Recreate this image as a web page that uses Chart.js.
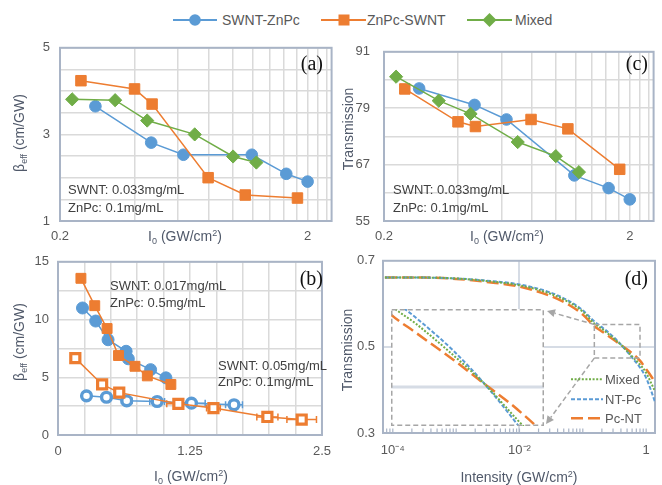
<!DOCTYPE html>
<html>
<head>
<meta charset="utf-8">
<script src="https://cdn.jsdelivr.net/npm/chart.js@4.4.0/dist/chart.umd.min.js"></script>
<style>
body { margin: 0; background: #fff; width: 662px; height: 485px; position: relative; overflow: hidden;
  font-family: 'Liberation Sans', Arial, sans-serif; color: #595959; }
canvas { position: absolute; }
.note { position: absolute; white-space: nowrap; font-size: 13px; color: #404040; line-height: 1; transform: translateY(-50%); }
.ttl { position: absolute; white-space: nowrap; font-size: 14px; color: #50596A; line-height: 1; transform: translate(-50%, -50%); }
.rot { transform: translate(-50%, -50%) rotate(-90deg); }
.ttl sub { font-size: 9px; vertical-align: -3px; }
.ttl sup { font-size: 9px; vertical-align: 5px; }
.pl { position: absolute; font-family: 'Liberation Serif', 'Times New Roman', serif; font-size: 20px; color: #111; line-height: 20px; }
.leg { position: absolute; white-space: nowrap; font-size: 14px; color: #595959; line-height: 1; transform: translateY(-50%); }
.leg2 { position: absolute; white-space: nowrap; font-size: 13px; color: #595959; line-height: 1; transform: translateY(-50%); }
svg { position: absolute; overflow: visible; }
</style>
</head>
<body>

<canvas id="chartA" width="340" height="215" style="left:0px;top:30px"></canvas>
<canvas id="chartC" width="322" height="215" style="left:340px;top:30px"></canvas>
<canvas id="chartB" width="340" height="240" style="left:0px;top:245px"></canvas>
<canvas id="chartD" width="322" height="240" style="left:340px;top:245px"></canvas>
<canvas id="chartInset" width="153" height="117" style="left:391px;top:309px;background:#fff"></canvas>

<!-- top legend -->
<svg style="left:173px;top:12px" width="46" height="16">
  <line x1="0" y1="8" x2="44" y2="8" stroke="#5B9BD5" stroke-width="2"/>
  <circle cx="22" cy="8" r="5.8" fill="#5B9BD5"/>
</svg>
<div class="leg" style="left:222px;top:20px">SWNT-ZnPc</div>
<svg style="left:321px;top:12px" width="46" height="16">
  <line x1="0" y1="8" x2="45" y2="8" stroke="#ED7D31" stroke-width="2"/>
  <rect x="17.5" y="2.5" width="11" height="11" fill="#ED7D31"/>
</svg>
<div class="leg" style="left:367px;top:20px">ZnPc-SWNT</div>
<svg style="left:467px;top:12px" width="46" height="16">
  <line x1="0" y1="8" x2="45" y2="8" stroke="#70AD47" stroke-width="2"/>
  <polygon points="22.5,1 29.5,8 22.5,15 15.5,8" fill="#70AD47"/>
</svg>
<div class="leg" style="left:515px;top:20px">Mixed</div>

<!-- legend of (d) -->
<svg style="left:571px;top:371px" width="32" height="50">
  <line x1="0" y1="8.3" x2="32" y2="8.3" stroke="#70AD47" stroke-width="2" stroke-dasharray="2 1.6"/>
  <line x1="0" y1="28.3" x2="32" y2="28.3" stroke="#5B9BD5" stroke-width="2" stroke-dasharray="4 2"/>
  <line x1="0" y1="47.3" x2="32" y2="47.3" stroke="#ED7D31" stroke-width="2.5" stroke-dasharray="12 5"/>
</svg>
<div class="leg2" style="left:605px;top:379px">Mixed</div>
<div class="leg2" style="left:605px;top:399px">NT-Pc</div>
<div class="leg2" style="left:605px;top:418px">Pc-NT</div>

<!-- axis titles -->
<div class="ttl rot" style="left:20px;top:133px">β<sub>eff</sub> (cm/GW)</div>
<div class="ttl" style="left:185px;top:237px">I<sub>0</sub> (GW/cm<sup>2</sup>)</div>
<div class="ttl rot" style="left:348px;top:129px">Transmission</div>
<div class="ttl" style="left:507px;top:237px">I<sub>0</sub> (GW/cm<sup>2</sup>)</div>
<div class="ttl rot" style="left:20px;top:342px">β<sub>eff</sub> (cm/GW)</div>
<div class="ttl" style="left:191px;top:477px">I<sub>0</sub> (GW/cm<sup>2</sup>)</div>
<div class="ttl rot" style="left:347px;top:350px">Transmission</div>
<div class="ttl" style="left:519px;top:477px">Intensity (GW/cm<sup>2</sup>)</div>

<!-- panel labels -->
<div class="pl" style="right:339px;top:53px">(a)</div>
<div class="pl" style="right:14px;top:53px">(c)</div>
<div class="pl" style="right:339px;top:268px">(b)</div>
<div class="pl" style="right:14px;top:268px">(d)</div>

<!-- notes -->
<div class="note" style="left:68px;top:189px">SWNT: 0.033mg/mL</div>
<div class="note" style="left:68px;top:207px">ZnPc: 0.1mg/mL</div>
<div class="note" style="left:393px;top:189px">SWNT: 0.033mg/mL</div>
<div class="note" style="left:393px;top:207px">ZnPc: 0.1mg/mL</div>
<div class="note" style="left:110px;top:285px">SWNT: 0.017mg/mL</div>
<div class="note" style="left:110px;top:302px">ZnPc: 0.5mg/mL</div>
<div class="note" style="left:218px;top:365px">SWNT: 0.05mg/mL</div>
<div class="note" style="left:218px;top:381px">ZnPc: 0.1mg/mL</div>

<script>
var BLUE = '#5B9BD5';
var ORANGE = '#ED7D31';
var GREEN = '#70AD47';
var FRAME = '#A9B4C6';
var GRID = '#DADADA';

// (a) and (c): I0 in GW/cm2, same for both panels
var blueI0 = [0.278, 0.467, 0.63, 1.19, 1.64, 2.0];
var orangeI0 = [0.243, 0.40, 0.471, 0.793, 1.12, 1.82];
var greenI0 = [0.224, 0.334, 0.45, 0.70, 1.0, 1.242];

// (a) beta_eff (cm/GW)
var aBlue = [3.65, 2.81, 2.53, 2.53, 2.09, 1.91];
var aOrange = [4.24, 4.05, 3.70, 2.00, 1.60, 1.53];
var aGreen = [3.81, 3.79, 3.32, 3.00, 2.49, 2.35];

// (c) transmission
var cBlue = [83.2, 79.7, 76.6, 64.7, 62.0, 59.6];
var cOrange = [83.1, 76.1, 75.1, 76.6, 74.6, 66.0];
var cGreen = [85.7, 80.6, 77.8, 71.8, 68.8, 65.4];

// (b) SWNT 0.017 / ZnPc 0.5 (filled) and SWNT 0.05 / ZnPc 0.1 (open, with x error)
var bBlueX = [0.232, 0.357, 0.474, 0.645, 0.666, 0.877, 1.022];
var bBlueY = [11.0, 9.87, 8.25, 7.25, 6.6, 5.66, 4.95];
var bOrangeX = [0.217, 0.348, 0.465, 0.573, 0.729, 0.846, 1.069];
var bOrangeY = [13.57, 11.2, 9.22, 6.88, 5.95, 5.12, 4.38];
var bBlueOpenX = [0.27, 0.459, 0.651, 0.939, 1.264, 1.667];
var bBlueOpenY = [3.39, 3.27, 2.96, 2.90, 2.76, 2.62];
var bBlueOpenErr = [0.03, 0.03, 0.05, 0.07, 0.13, 0.08];
var bOrangeOpenX = [0.164, 0.418, 0.58, 1.14, 1.472, 1.983, 2.308];
var bOrangeOpenY = [6.66, 4.38, 3.67, 2.70, 2.33, 1.56, 1.34];
var bOrangeOpenErr = [0.02, 0.03, 0.04, 0.11, 0.065, 0.10, 0.14];

// (d) fitted transmission curves vs intensity
var dI = [7.5e-5, 3e-4, 1e-3, 3e-3, 0.01, 0.03, 0.06, 0.1, 0.15, 0.2, 0.3, 0.42, 0.6, 0.8, 1.0, 1.2, 1.38];
var dMixed = [0.661, 0.661, 0.659, 0.653, 0.643, 0.624, 0.604, 0.582, 0.555, 0.542, 0.521, 0.502, 0.478, 0.459, 0.440, 0.416, 0.397];
var dNTPc = [0.661, 0.661, 0.659, 0.654, 0.645, 0.627, 0.607, 0.585, 0.560, 0.546, 0.524, 0.502, 0.475, 0.452, 0.428, 0.398, 0.372];
var dPcNT = [0.661, 0.661, 0.658, 0.651, 0.640, 0.619, 0.598, 0.575, 0.549, 0.536, 0.518, 0.502, 0.485, 0.468, 0.448, 0.432, 0.418];

// zoomed window shown in the inset of (d)
var zoomX = [0.152, 0.80];
var zoomY = [0.474, 0.552];

// tick / grid values
var logGrid = [0.2, 0.4, 0.6, 0.8, 1.0, 1.2, 1.4, 1.6, 1.8, 2.0, 2.2, 2.4];
var logLabels = [0.2, 2];
var aYLabels = [1, 3, 5];
var cYLabels = [55, 67, 79, 91];
var bXLabels = [0, 1.25, 2.5];
var bYLabels = [0, 5, 10, 15];
var dXTicks = [1e-4, 1e-2, 1];
var dXLabels = ['10⁻⁴', '10⁻²', '1'];

Chart.defaults.font.family = "'Liberation Sans', Arial, sans-serif";
Chart.defaults.font.size = 13;
Chart.defaults.color = '#595959';

function pts(xs, ys) {
	var out = [];
	for (var i = 0; i < xs.length; i++) {
		out.push({x: xs[i], y: ys[i]});
	}
	return out;
}

function only(list) {
	return function(value) {
		for (var i = 0; i < list.length; i++) {
			if (Math.abs(value - list[i]) < 1e-9) return String(list[i]);
		}
		return '';
	};
}

var frame = {
	id: 'frame',
	beforeDatasetsDraw: function(chart) {
		var a = chart.chartArea;
		var c = chart.ctx;
		c.save();
		c.strokeStyle = FRAME;
		c.lineWidth = 2;
		c.strokeRect(a.left, a.top, a.right - a.left, a.bottom - a.top);
		c.restore();
	}
};

var errorBars = {
	id: 'errorBars',
	beforeDatasetsDraw: function(chart) {
		var c = chart.ctx;
		var xs = chart.scales.x;
		chart.data.datasets.forEach(function(ds, i) {
			if (!ds.xErr) return;
			var meta = chart.getDatasetMeta(i);
			c.save();
			c.strokeStyle = ds.borderColor;
			c.lineWidth = 1.5;
			meta.data.forEach(function(p, j) {
				var v = ds.data[j].x;
				var l = xs.getPixelForValue(v - ds.xErr[j]);
				var r = xs.getPixelForValue(v + ds.xErr[j]);
				c.beginPath();
				c.moveTo(l, p.y); c.lineTo(r, p.y);
				c.moveTo(l, p.y - 3.5); c.lineTo(l, p.y + 3.5);
				c.moveTo(r, p.y - 3.5); c.lineTo(r, p.y + 3.5);
				c.stroke();
			});
			c.restore();
		});
	}
};

function series(label, data, color, style, radius, order) {
	return {
		label: label,
		data: data,
		showLine: true,
		borderColor: color,
		backgroundColor: color,
		borderWidth: 1.5,
		pointStyle: style,
		pointRadius: radius,
		pointBorderWidth: 1,
		order: order
	};
}

function baseOptions(pad) {
	return {
		responsive: false,
		animation: false,
		devicePixelRatio: 1,
		events: [],
		layout: {padding: pad},
		plugins: {legend: {display: false}, tooltip: {enabled: false}}
	};
}

// ---------- (a) ----------
var optA = baseOptions({top: 14, right: 8, left: 0, bottom: 0});
optA.scales = {
	x: {
		type: 'logarithmic', min: 0.2, max: 2.5,
		afterBuildTicks: function(s) { s.ticks = logGrid.map(function(v) { return {value: v}; }); },
		afterFit: function(s) { s.height = 24; },
		grid: {color: GRID, lineWidth: 1.5, drawTicks: false},
		border: {display: false},
		ticks: {callback: only(logLabels), autoSkip: false, maxRotation: 0, padding: 8}
	},
	y: {
		type: 'linear', min: 1, max: 5,
		afterFit: function(s) { s.width = 60; },
		grid: {color: GRID, lineWidth: 1.5, drawTicks: false},
		border: {display: false},
		ticks: {stepSize: 0.5, callback: only(aYLabels), autoSkip: false, padding: 10}
	}
};
var chartA = new Chart(document.getElementById('chartA'), {
	type: 'scatter',
	data: {datasets: [
		series('SWNT-ZnPc', pts(blueI0, aBlue), BLUE, 'circle', 5.8, 3),
		series('ZnPc-SWNT', pts(orangeI0, aOrange), ORANGE, 'rect', 7.4, 2),
		series('Mixed', pts(greenI0, aGreen), GREEN, 'rectRot', 6.6, 1)
	]},
	options: optA,
	plugins: [frame]
});

// ---------- (c) ----------
var optC = baseOptions({top: 14, right: 7, left: 0, bottom: 0});
optC.scales = {
	x: {
		type: 'logarithmic', min: 0.2, max: 2.5,
		afterBuildTicks: function(s) { s.ticks = logGrid.map(function(v) { return {value: v}; }); },
		afterFit: function(s) { s.height = 24; },
		grid: {color: GRID, lineWidth: 1.5, drawTicks: false},
		border: {display: false},
		ticks: {callback: only(logLabels), autoSkip: false, maxRotation: 0, padding: 8}
	},
	y: {
		type: 'linear', min: 55, max: 91,
		afterFit: function(s) { s.width = 44; },
		grid: {color: GRID, lineWidth: 1.5, drawTicks: false},
		border: {display: false},
		ticks: {stepSize: 6, callback: only(cYLabels), autoSkip: false, padding: 14}
	}
};
var chartC = new Chart(document.getElementById('chartC'), {
	type: 'scatter',
	data: {datasets: [
		series('SWNT-ZnPc', pts(blueI0, cBlue), BLUE, 'circle', 5.8, 3),
		series('ZnPc-SWNT', pts(orangeI0, cOrange), ORANGE, 'rect', 7.4, 2),
		series('Mixed', pts(greenI0, cGreen), GREEN, 'rectRot', 6.6, 1)
	]},
	options: optC,
	plugins: [frame]
});

// ---------- (b) ----------
var openBlue = series('SWNT-ZnPc 0.05', pts(bBlueOpenX, bBlueOpenY), BLUE, 'circle', 4.9, 2);
openBlue.backgroundColor = '#fff';
openBlue.pointBorderWidth = 3.4;
openBlue.xErr = bBlueOpenErr;
var openOrange = series('ZnPc-SWNT 0.05', pts(bOrangeOpenX, bOrangeOpenY), ORANGE, 'rect', 6.4, 1);
openOrange.backgroundColor = '#fff';
openOrange.pointBorderWidth = 3.2;
openOrange.xErr = bOrangeOpenErr;

var optB = baseOptions({top: 12, right: 10, left: 0, bottom: 0});
optB.scales = {
	x: {
		type: 'linear', min: 0, max: 2.5,
		afterFit: function(s) { s.height = 50; },
		grid: {color: GRID, lineWidth: 1.5, drawTicks: false},
		border: {display: false},
		ticks: {stepSize: 0.25, callback: only(bXLabels), autoSkip: false, maxRotation: 0, padding: 9}
	},
	y: {
		type: 'linear', min: 0, max: 15,
		afterFit: function(s) { s.width = 58; },
		grid: {color: GRID, lineWidth: 1.5, drawTicks: false},
		border: {display: false},
		ticks: {stepSize: 2.5, callback: only(bYLabels), autoSkip: false, padding: 9}
	}
};
var chartB = new Chart(document.getElementById('chartB'), {
	type: 'scatter',
	data: {datasets: [
		series('SWNT-ZnPc 0.017', pts(bBlueX, bBlueY), BLUE, 'circle', 6, 4),
		series('ZnPc-SWNT 0.017', pts(bOrangeX, bOrangeY), ORANGE, 'rect', 7, 3),
		openBlue,
		openOrange
	]},
	options: optB,
	plugins: [frame, errorBars]
});

// ---------- (d) ----------
function curve(label, ys, color, dash, width) {
	return {
		label: label,
		data: pts(dI, ys),
		showLine: true,
		borderColor: color,
		borderWidth: width,
		borderDash: dash,
		pointRadius: 0,
		cubicInterpolationMode: 'monotone'
	};
}

function curves() {
	return [
		curve('Mixed', dMixed, GREEN, [2, 1.6], 2),
		curve('NT-Pc', dNTPc, BLUE, [4, 2], 2),
		curve('Pc-NT', dPcNT, ORANGE, [12, 5], 2.5)
	];
}

// inset box position inside the (d) canvas
var insetBox = {left: 51, top: 64, right: 204, bottom: 181};

function arrow(c, x1, y1, x2, y2) {
	var ang = Math.atan2(y2 - y1, x2 - x1);
	var hx = x2 - Math.cos(ang) * 8;
	var hy = y2 - Math.sin(ang) * 8;
	c.beginPath();
	c.moveTo(x1, y1);
	c.lineTo(hx, hy);
	c.stroke();
	c.save();
	c.setLineDash([]);
	c.beginPath();
	c.moveTo(x2, y2);
	c.lineTo(hx + Math.sin(ang) * 4, hy - Math.cos(ang) * 4);
	c.lineTo(hx - Math.sin(ang) * 4, hy + Math.cos(ang) * 4);
	c.closePath();
	c.fill();
	c.restore();
}

var zoomMarks = {
	id: 'zoomMarks',
	afterDraw: function(chart) {
		var c = chart.ctx;
		var xs = chart.scales.x, ys = chart.scales.y;
		var a = chart.chartArea;
		// minor ticks along the bottom axis
		c.save();
		c.strokeStyle = FRAME;
		c.lineWidth = 1.2;
		for (var e = -5; e <= 0; e++) {
			for (var k = 1; k <= 9; k++) {
				var v = k * Math.pow(10, e);
				if (v < xs.min || v > xs.max) continue;
				var px = xs.getPixelForValue(v);
				c.beginPath();
				c.moveTo(px, a.bottom - 1);
				c.lineTo(px, a.bottom - 4.5);
				c.stroke();
			}
		}
		c.restore();
		// zoom window and arrows
		var l = xs.getPixelForValue(zoomX[0]), r = xs.getPixelForValue(zoomX[1]);
		var t = ys.getPixelForValue(zoomY[1]), b = ys.getPixelForValue(zoomY[0]);
		c.save();
		c.strokeStyle = '#A6A6A6';
		c.fillStyle = '#A6A6A6';
		c.lineWidth = 1.5;
		c.setLineDash([5, 3]);
		c.strokeRect(l, t, r - l, b - t);
		arrow(c, l, t, insetBox.right + 3, insetBox.top + 2);
		arrow(c, l, b, insetBox.right + 2, insetBox.bottom - 2);
		c.restore();
	}
};

var optD = baseOptions({top: 12, right: 7, left: 0, bottom: 0});
optD.scales = {
	x: {
		type: 'logarithmic', min: 7.5e-5, max: 1.38,
		afterBuildTicks: function(s) { s.ticks = dXTicks.map(function(v) { return {value: v}; }); },
		afterFit: function(s) { s.height = 52; },
		grid: {
			color: function(ctx) { return ctx.tick && Math.abs(ctx.tick.value - 0.01) < 1e-9 ? '#D6DCE5' : 'rgba(0,0,0,0)'; },
			lineWidth: 2, drawTicks: false
		},
		border: {display: false},
		ticks: {
			callback: function(value) {
				for (var i = 0; i < dXTicks.length; i++) {
					if (Math.abs(value - dXTicks[i]) < dXTicks[i] * 1e-6) return dXLabels[i];
				}
				return '';
			},
			autoSkip: false, maxRotation: 0, padding: 10
		}
	},
	y: {
		type: 'linear', min: 0.3, max: 0.7,
		afterFit: function(s) { s.width = 43; },
		grid: {
			color: function(ctx) { return ctx.tick && Math.abs(ctx.tick.value - 0.5) < 1e-6 ? '#D6DCE5' : 'rgba(0,0,0,0)'; },
			lineWidth: 2, drawTicks: false
		},
		border: {display: false},
		ticks: {stepSize: 0.2, callback: function(v) { return v.toFixed(1); }, autoSkip: false, padding: 8}
	}
};
var chartD = new Chart(document.getElementById('chartD'), {
	type: 'scatter',
	data: {datasets: curves()},
	options: optD,
	plugins: [frame, zoomMarks]
});

// ---------- inset of (d) ----------
var insetDeco = {
	id: 'insetDeco',
	beforeDatasetsDraw: function(chart) {
		var c = chart.ctx;
		var y = chart.scales.y.getPixelForValue(0.5);
		c.save();
		c.strokeStyle = '#D6DCE5';
		c.lineWidth = 3;
		c.beginPath();
		c.moveTo(0, y);
		c.lineTo(chart.width, y);
		c.stroke();
		c.restore();
	},
	afterDraw: function(chart) {
		var c = chart.ctx;
		c.save();
		c.strokeStyle = '#A6A6A6';
		c.lineWidth = 1.5;
		c.setLineDash([5, 3]);
		c.strokeRect(0.75, 0.75, chart.width - 1.5, chart.height - 1.5);
		c.restore();
	}
};
var optI = baseOptions(0);
optI.scales = {
	x: {type: 'logarithmic', min: zoomX[0], max: zoomX[1], display: false},
	y: {type: 'linear', min: zoomY[0], max: zoomY[1], display: false}
};
var chartInset = new Chart(document.getElementById('chartInset'), {
	type: 'scatter',
	data: {datasets: curves()},
	options: optI,
	plugins: [insetDeco]
});
</script>
</body>
</html>
